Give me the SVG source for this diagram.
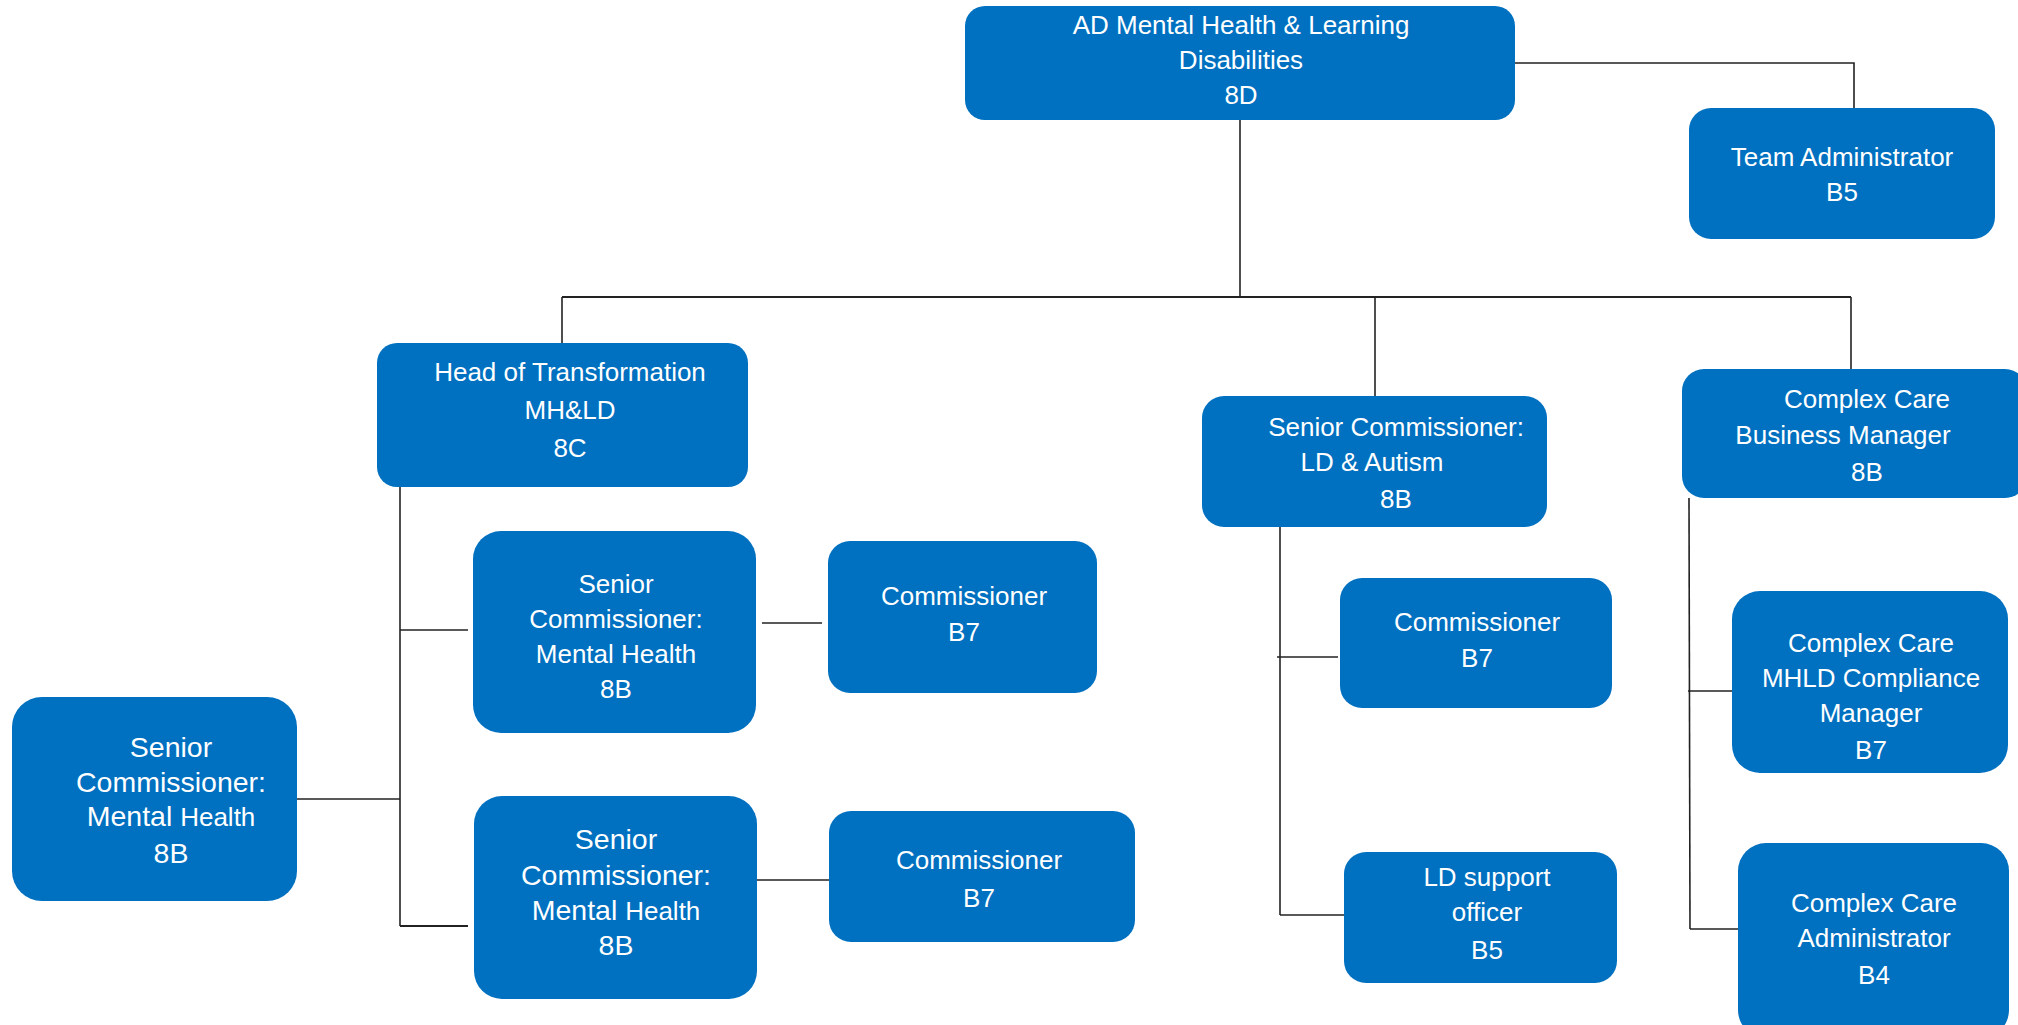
<svg xmlns="http://www.w3.org/2000/svg" width="2018" height="1025" viewBox="0 0 2018 1025">
<style>
.box{fill:#0070C0;}
.t{font-family:"Liberation Sans",Arial,sans-serif;font-size:26px;fill:#fff;text-anchor:middle;}
.a{font-family:"Liberation Sans",Arial,sans-serif;font-size:28.5px;fill:#fff;text-anchor:middle;}
.h{font-size:26px;}
.c{stroke:#222;stroke-width:1.6;fill:none;}
</style>
<rect width="2018" height="1025" fill="#fff"/>
<g id="connectors">
<polyline class="c" points="1515,63 1854,63 1854,108"/>
<line class="c" x1="1240" y1="120" x2="1240" y2="297"/>
<line class="c" x1="562" y1="297" x2="1851" y2="297" style="stroke-width:2"/>
<line class="c" x1="562" y1="297" x2="562" y2="343"/>
<line class="c" x1="1375" y1="297" x2="1375" y2="396"/>
<line class="c" x1="1851" y1="297" x2="1851" y2="369"/>
<line class="c" x1="400" y1="487" x2="400" y2="926"/>
<line class="c" x1="400" y1="630" x2="468" y2="630"/>
<line class="c" x1="296" y1="799" x2="400" y2="799"/>
<line class="c" x1="400" y1="926" x2="468" y2="926" style="stroke-width:2"/>
<line class="c" x1="762" y1="623" x2="822" y2="623"/>
<line class="c" x1="757" y1="880" x2="829" y2="880"/>
<line class="c" x1="1280" y1="527" x2="1280" y2="915"/>
<line class="c" x1="1277" y1="657" x2="1338" y2="657"/>
<line class="c" x1="1280" y1="915" x2="1344" y2="915"/>
<line class="c" x1="1689" y1="498" x2="1690" y2="929"/>
<line class="c" x1="1688" y1="691" x2="1732" y2="691"/>
<line class="c" x1="1690" y1="929" x2="1738" y2="929"/>
</g>
<g id="ad">
<rect class="box" x="965" y="6" width="550" height="114" rx="20"/>
<text class="t" x="1241" y="34">AD Mental Health &amp; Learning</text>
<text class="t" x="1241" y="69">Disabilities</text>
<text class="t" x="1241" y="104">8D</text>
</g>
<g id="team-admin">
<rect class="box" x="1689" y="108" width="306" height="131" rx="22"/>
<text class="t" x="1842" y="166">Team Administrator</text>
<text class="t" x="1842" y="201">B5</text>
</g>
<g id="head-transformation">
<rect class="box" x="377" y="343" width="371" height="144" rx="20"/>
<text class="t" x="570" y="381">Head of Transformation</text>
<text class="t" x="570" y="419">MH&amp;LD</text>
<text class="t" x="570" y="457">8C</text>
</g>
<g id="sc-mh-1">
<rect class="box" x="473" y="531" width="283" height="202" rx="28"/>
<text class="t" x="616" y="593">Senior</text>
<text class="t" x="616" y="628">Commissioner:</text>
<text class="t" x="616" y="663">Mental Health</text>
<text class="t" x="616" y="698">8B</text>
</g>
<g id="commissioner-1">
<rect class="box" x="828" y="541" width="269" height="152" rx="22"/>
<text class="t" x="964" y="605">Commissioner</text>
<text class="t" x="964" y="641">B7</text>
</g>
<g id="sc-mh-left">
<rect class="box" x="12" y="697" width="285" height="204" rx="30"/>
<text class="a" x="171" y="757">Senior</text>
<text class="a" x="171" y="792">Commissioner:</text>
<text class="a" x="171" y="826">Mental <tspan class="h">Health</tspan></text>
<text class="a" x="171" y="863">8B</text>
</g>
<g id="sc-mh-2">
<rect class="box" x="474" y="796" width="283" height="203" rx="28"/>
<text class="a" x="616" y="849">Senior</text>
<text class="a" x="616" y="885">Commissioner:</text>
<text class="a" x="616" y="920">Mental <tspan class="h">Health</tspan></text>
<text class="a" x="616" y="955">8B</text>
</g>
<g id="commissioner-2">
<rect class="box" x="829" y="811" width="306" height="131" rx="22"/>
<text class="t" x="979" y="869">Commissioner</text>
<text class="t" x="979" y="907">B7</text>
</g>
<g id="sc-ld">
<rect class="box" x="1202" y="396" width="345" height="131" rx="22"/>
<text class="t" x="1396" y="436">Senior Commissioner:</text>
<text class="t" x="1372" y="471">LD &amp; Autism</text>
<text class="t" x="1396" y="508">8B</text>
</g>
<g id="cc-business-manager">
<rect class="box" x="1682" y="369" width="345" height="129" rx="22"/>
<text class="t" x="1867" y="408">Complex Care</text>
<text class="t" x="1843" y="444">Business Manager</text>
<text class="t" x="1867" y="481">8B</text>
</g>
<g id="commissioner-3">
<rect class="box" x="1340" y="578" width="272" height="130" rx="22"/>
<text class="t" x="1477" y="631">Commissioner</text>
<text class="t" x="1477" y="667">B7</text>
</g>
<g id="ld-support">
<rect class="box" x="1344" y="852" width="273" height="131" rx="22"/>
<text class="t" x="1487" y="886">LD support</text>
<text class="t" x="1487" y="921">officer</text>
<text class="t" x="1487" y="959">B5</text>
</g>
<g id="cc-mhld">
<rect class="box" x="1732" y="591" width="276" height="182" rx="28"/>
<text class="t" x="1871" y="652">Complex Care</text>
<text class="t" x="1871" y="687">MHLD Compliance</text>
<text class="t" x="1871" y="722">Manager</text>
<text class="t" x="1871" y="759">B7</text>
</g>
<g id="cc-admin">
<rect class="box" x="1738" y="843" width="271" height="195" rx="28"/>
<text class="t" x="1874" y="912">Complex Care</text>
<text class="t" x="1874" y="947">Administrator</text>
<text class="t" x="1874" y="984">B4</text>
</g>
</svg>
